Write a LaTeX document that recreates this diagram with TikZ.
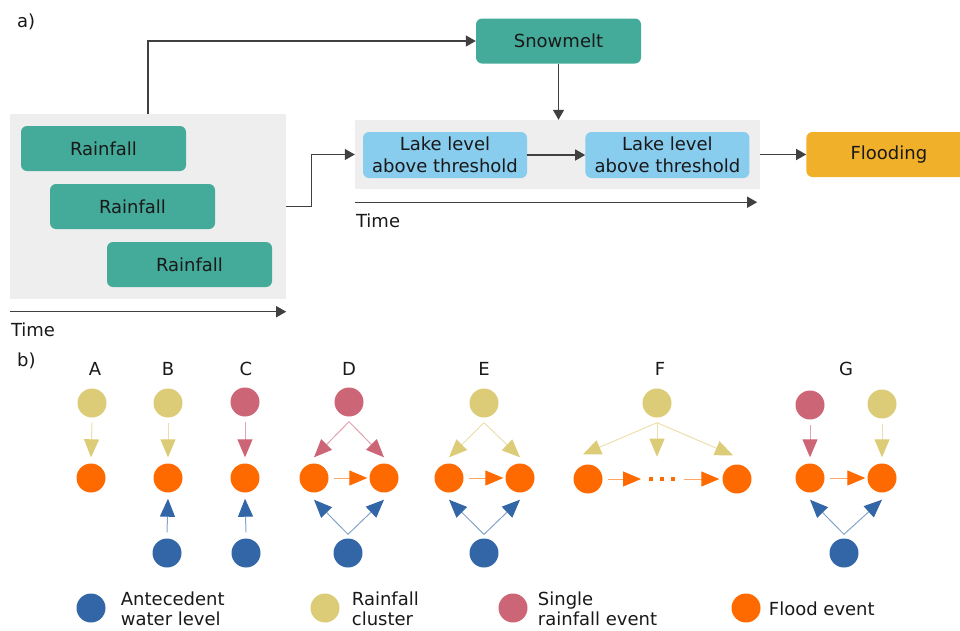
\documentclass[tikz,border=0pt]{standalone}
\usepackage{fontspec}
\setmainfont{DejaVu Sans}
\usepackage{xcolor}
\definecolor{FlowTeal}{HTML}{44AA99}
\definecolor{FlowSky}{HTML}{88CCEE}
\definecolor{FlowGold}{HTML}{F0B02A}
\definecolor{FlowPanel}{HTML}{EEEEEE}
\definecolor{FlowInk}{HTML}{404040}
\definecolor{EvSand}{HTML}{DDCC77}
\definecolor{EvRose}{HTML}{CC6677}
\definecolor{EvBlue}{HTML}{3366A6}
\definecolor{EvOrange}{HTML}{FF6A00}
\usetikzlibrary{arrows.meta,positioning}

\begin{document}
\begin{tikzpicture}[
  x=1pt,y=-1pt,
  font=\fontsize{18}{22}\selectfont,
  box/.style={rounded corners=6pt,minimum width=165pt,minimum height=45pt,inner sep=0pt,align=center,text=black!90},
  rain/.style={box,fill=FlowTeal},
  lake/.style={box,fill=FlowSky,minimum width=164pt,minimum height=46pt},
  panel/.style={fill=FlowPanel,inner sep=0pt},
  flow/.style={-{Triangle[length=10pt,width=11pt]},draw=FlowInk,line width=1.3pt},
  ev/.style={circle,minimum size=29pt,inner sep=0pt},
  sand/.style={ev,fill=EvSand},
  rose/.style={ev,fill=EvRose},
  wet/.style={ev,fill=EvBlue},
  flood/.style={ev,fill=EvOrange},
  link/.style={-{Triangle[length=18pt,width=15pt,color=#1]},draw=#1!60,line width=1pt},
  tag/.style={anchor=base,inner sep=0pt,text=black!90},
  key/.style={anchor=west,align=left,inner sep=0pt,text=black!90,font=\fontsize{18}{20}\selectfont}
]
\useasboundingbox (0,0) rectangle (960,630);

% a) chain of events
\node[tag,anchor=base west] (lblA) at (17,27) {a)};
\node[panel,minimum width=276pt,minimum height=185pt] (pl) at (148,206.5) {};
\node[rain] (r1) at (103.5,148.5) {Rainfall};
\node[rain] (r2) at (132.5,206.5) {Rainfall};
\node[rain] (r3) at (189.5,264.5) {Rainfall};
\node[panel,minimum width=405pt,minimum height=69pt] (pr) at (557.5,154.5) {};
\node[lake] (k1) at (445,155) {Lake level\\above threshold};
\node[lake,right=58pt of k1] (k2) {Lake level\\above threshold};
\node[box,fill=FlowTeal] (snow) at (558.5,41) {Snowmelt};
\node[box,fill=FlowGold,right=46pt of pr] (fl) {Flooding};

\draw[flow] (pl.north) |- (snow.west);
\draw[flow] (snow.south) -- (snow.south |- pr.north);
\draw[flow] (pl.east) -- ++(25,0) |- (pr.west);
\draw[flow] (k1) -- (k2);
\draw[flow] (pr.east) -- (fl.west);

% time axes
\draw[flow] ([yshift=-12.5pt]pl.south west) -- ([yshift=-12.5pt]pl.south east);
\node[tag,anchor=base west] (t1) at ([xshift=1pt,yshift=-37pt]pl.south west) {Time};
\draw[flow] ([yshift=-13pt]pr.south west) -- ([xshift=-3pt,yshift=-13pt]pr.south east);
\node[tag,anchor=base west] (t2) at ([xshift=1pt,yshift=-38pt]pr.south west) {Time};

% b) patterns
\node[tag,anchor=base west] (lblB) at (17,366) {b)};
\foreach \name/\x in {A/95,B/168,C/246,D/349,E/484,F/660,G/846}
  \node[tag] (h\name) at (\x,375) {\name};

% A
\node[sand] (aT) at (92,403) {};
\node[flood] (aF) at (91,478) {};
\draw[link=EvSand] ([yshift=-5pt]aT.south) -- ([yshift=6pt]aF.north);
% B
\node[sand] (bT) at (168,403) {};
\node[flood] (bF) at (168,478) {};
\node[wet] (bW) at (167,553) {};
\draw[link=EvSand] ([yshift=-5pt]bT.south) -- ([yshift=6pt]bF.north);
\draw[link=EvBlue] ([yshift=6pt]bW.north) -- ([yshift=-6pt]bF.south);
% C
\node[rose] (cT) at (245,402) {};
\node[flood] (cF) at (245,478) {};
\node[wet] (cW) at (246,553) {};
\draw[link=EvRose] ([yshift=-5pt]cT.south) -- ([yshift=6pt]cF.north);
\draw[link=EvBlue] ([yshift=6pt]cW.north) -- ([yshift=-6pt]cF.south);
% D
\node[rose] (dT) at (349,402) {};
\node[flood] (dL) at (314,478) {};
\node[flood] (dR) at (384,478) {};
\node[wet] (dB) at (348,553) {};
\draw[link=EvRose] ([yshift=-5pt]dT.south) -- ([yshift=6pt]dL.north);
\draw[link=EvRose] ([yshift=-5pt]dT.south) -- ([yshift=6pt]dR.north);
\draw[link=EvOrange] ([xshift=5pt]dL.east) -- ([xshift=-2pt]dR.west);
\draw[link=EvBlue] ([yshift=4pt]dB.north) -- ([yshift=-7pt]dL.south);
\draw[link=EvBlue] ([yshift=4pt]dB.north) -- ([yshift=-7pt]dR.south);
% E
\node[sand] (eT) at (484,403) {};
\node[flood] (eL) at (449,478) {};
\node[flood] (eR) at (520,478) {};
\node[wet] (eB) at (484,553) {};
\draw[link=EvSand] ([yshift=-5pt]eT.south) -- ([yshift=6pt]eL.north);
\draw[link=EvSand] ([yshift=-5pt]eT.south) -- ([yshift=6pt]eR.north);
\draw[link=EvOrange] ([xshift=5pt]eL.east) -- ([xshift=-2pt]eR.west);
\draw[link=EvBlue] ([yshift=4pt]eB.north) -- ([yshift=-7pt]eL.south);
\draw[link=EvBlue] ([yshift=4pt]eB.north) -- ([yshift=-7pt]eR.south);
% F
\node[sand] (fT) at (657,403) {};
\node[flood] (fL) at (588,479) {};
\node[flood] (fR) at (737,479) {};
\coordinate (gap) at (662,479);
\draw[link=EvSand] ([yshift=-5pt]fT.south) -- ([xshift=-5pt,yshift=10pt]fL.north);
\draw[link=EvSand] ([yshift=-5pt]fT.south) -- ([yshift=-39pt]fT.south);
\draw[link=EvSand] ([yshift=-5pt]fT.south) -- ([xshift=-4pt,yshift=9pt]fR.north);
\draw[link=EvOrange] ([xshift=5pt]fL.east) -- ([xshift=-21pt]gap);
\draw[link=EvOrange] ([xshift=22pt]gap) -- ([xshift=-3pt]fR.west);
\foreach \dx in {-11,0,11}
  \fill[EvOrange] ([xshift=\dx pt-2pt,yshift=-2pt]gap) rectangle ++(4,-4);
% G
\node[rose] (gT1) at (810,405) {};
\node[sand] (gT2) at (882,404) {};
\node[flood] (gL) at (810,478) {};
\node[flood] (gR) at (882,478) {};
\node[wet] (gB) at (844,553) {};
\draw[link=EvRose] ([yshift=-5pt]gT1.south) -- ([yshift=6pt]gL.north);
\draw[link=EvSand] ([yshift=-5pt]gT2.south) -- ([yshift=6pt]gR.north);
\draw[link=EvOrange] ([xshift=5pt]gL.east) -- ([xshift=-2pt]gR.west);
\draw[link=EvBlue] ([yshift=4pt]gB.north) -- ([yshift=-7pt]gL.south);
\draw[link=EvBlue] ([yshift=4pt]gB.north) -- ([yshift=-7pt]gR.south);

% legend
\node[wet] (kW) at (91,608) {};
\node[key,right=15pt of kW,yshift=-1pt] (kWt) {Antecedent\\water level};
\node[sand] (kS) at (325,608) {};
\node[key,right=12pt of kS,yshift=-1pt] (kSt) {Rainfall\\cluster};
\node[rose] (kR) at (513,608) {};
\node[key,right=10pt of kR,yshift=-1pt] (kRt) {Single\\rainfall event};
\node[flood] (kF) at (746,608) {};
\node[key,right=8pt of kF,yshift=-1pt] (kFt) {Flood event};
\end{tikzpicture}
\end{document}
